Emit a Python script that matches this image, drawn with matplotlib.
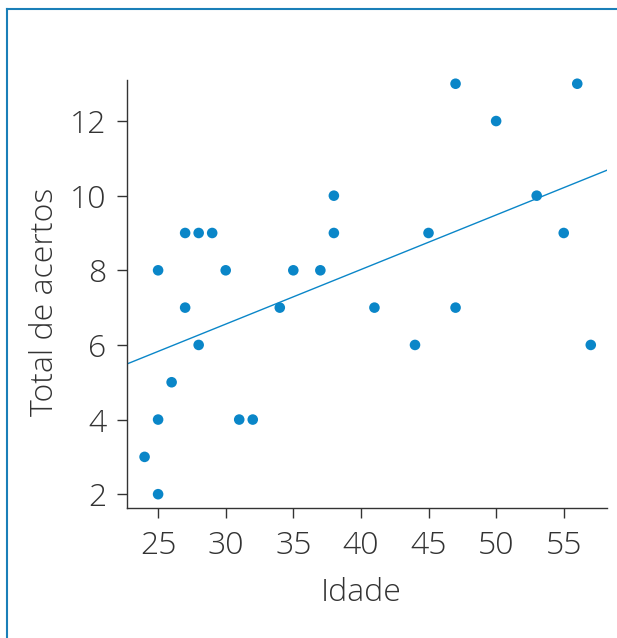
import numpy as np
import matplotlib
matplotlib.use("Agg")
import matplotlib.pyplot as plt
from matplotlib.lines import Line2D

idade = [24, 25, 25, 25, 26, 27, 27, 28, 28, 29, 30, 31, 32, 34, 35, 37, 38, 38,
         41, 44, 45, 47, 47, 50, 53, 55, 56, 57]
acertos = [3, 2, 4, 8, 5, 7, 9, 6, 9, 9, 8, 4, 4, 7, 8, 8, 9, 10,
           7, 6, 9, 13, 7, 12, 10, 9, 13, 6]
xticks = [25, 30, 35, 40, 45, 50, 55]
yticks = [2, 4, 6, 8, 10, 12]

plt.rcParams['font.family'] = ['Open Sans', 'DejaVu Sans']
blue = '#0a86c8'
txt = '#333333'

fig = plt.figure(figsize=(6.17, 6.38), dpi=100)
ax = fig.add_axes([127/617, 1-508/638, (607-127)/617, (508-80)/638])

x = np.array(idade, dtype=float)
y = np.array(acertos, dtype=float)
ax.scatter(x, y, s=58, color=blue, edgecolors='none', zorder=3, clip_on=False)

xlim = (22.7, 58.2)
m, b = np.polyfit(x, y, 1)
xl = np.array(xlim)
ax.plot(xl, m*xl + b, color=blue, lw=1.0, zorder=2)

ax.set_xlim(*xlim)
ax.set_ylim(1.63, 13.1)
ax.set_xticks(xticks)
ax.set_yticks(yticks)
for s in ['top', 'right']:
    ax.spines[s].set_visible(False)
for s in ['left', 'bottom']:
    ax.spines[s].set_color(txt)
    ax.spines[s].set_linewidth(1.0)
ax.tick_params(axis='both', length=7, width=1.0, color=txt, labelcolor=txt,
               labelsize=23)
ax.tick_params(axis='x', pad=8.5)
ax.tick_params(axis='y', pad=7.7)
for lab in ax.get_xticklabels() + ax.get_yticklabels():
    lab.set_fontweight('light')
ax.set_xlabel('Idade', fontsize=23, color=txt, fontweight='light', labelpad=11)
ax.set_ylabel('Total de acertos', fontsize=23, color=txt, fontweight='light', labelpad=6.5)
ax.yaxis.label.set_y((508-302)/428)
ax.xaxis.label.set_x((361-127)/480)

border = '#1a7fb8'
fig.add_artist(Line2D([7/617, 1], [1-9/638, 1-9/638], color=border, lw=1.5, transform=fig.transFigure))
fig.add_artist(Line2D([7/617, 7/617], [0, 1-9/638], color=border, lw=1.5, transform=fig.transFigure))

fig.savefig('out.png', dpi=100)
